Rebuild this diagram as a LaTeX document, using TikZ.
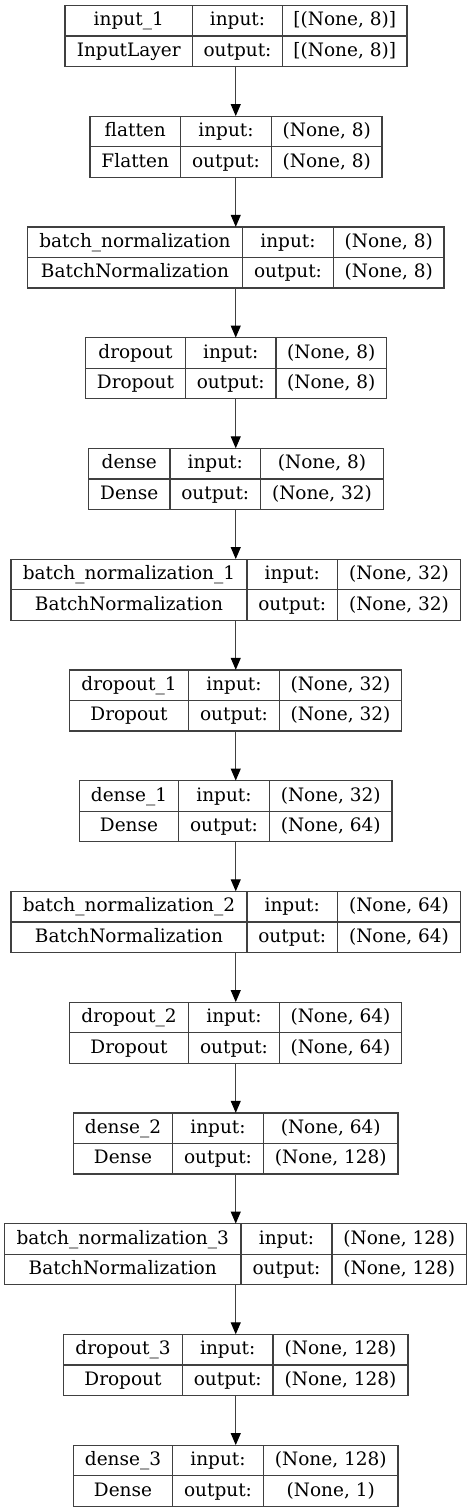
\documentclass[tikz,border=0pt]{standalone}
\usepackage{fontspec}
\setmainfont{DejaVu Serif}
\usetikzlibrary{arrows.meta}
\definecolor{boxgray}{gray}{0.25}
\tikzset{
  cell/.style={draw=boxgray, line width=1.1pt, inner sep=0pt, minimum height=30.5pt,
    text height=14pt, text depth=4pt, font=\fontsize{18.5}{22}\selectfont},
  layer/.style={inner sep=0pt, minimum height=61pt},
  edge/.style={draw=boxgray, line width=1.1pt, -{Triangle[width=10pt, length=12pt, color=black]}}
}
\begin{document}
\begin{tikzpicture}[x = {(1pt, 0pt)}, y = {(0pt, -1pt)}]
  \useasboundingbox (0, 0) rectangle (472, 1512);

  \node[layer, minimum width=342pt] (l1) at (235.75, 36) {};
  \node[cell, minimum width=127.5pt] (l1a) at (128.75, 20.75) {input\_1};
  \node[cell, minimum width=127.5pt] (l1b) at (128.75, 51.25) {InputLayer};
  \node[cell, minimum width=90pt] (l1c) at (237.5, 20.75) {input:};
  \node[cell, minimum width=90pt] (l1d) at (237.5, 51.25) {output:};
  \node[cell, minimum width=124.5pt] (l1e) at (344.75, 20.75) {[(None, 8)]};
  \node[cell, minimum width=124.5pt] (l1f) at (344.75, 51.25) {[(None, 8)]};

  \node[layer, minimum width=292pt] (l2) at (235.75, 146.75) {};
  \node[cell, minimum width=90.5pt] (l2a) at (135.25, 131.5) {flatten};
  \node[cell, minimum width=90.5pt] (l2b) at (135.25, 162) {Flatten};
  \node[cell, minimum width=91pt] (l2c) at (226, 131.5) {input:};
  \node[cell, minimum width=91pt] (l2d) at (226, 162) {output:};
  \node[cell, minimum width=110.5pt] (l2e) at (326.75, 131.5) {(None, 8)};
  \node[cell, minimum width=110.5pt] (l2f) at (326.75, 162) {(None, 8)};
  \draw[edge] (l1) -- (l2);

  \node[layer, minimum width=416.5pt] (l3) at (235.75, 257.5) {};
  \node[cell, minimum width=215pt] (l3a) at (135, 242.25) {batch\_normalization};
  \node[cell, minimum width=215pt] (l3b) at (135, 272.75) {BatchNormalization};
  \node[cell, minimum width=91pt] (l3c) at (288, 242.25) {input:};
  \node[cell, minimum width=91pt] (l3d) at (288, 272.75) {output:};
  \node[cell, minimum width=110.5pt] (l3e) at (388.75, 242.25) {(None, 8)};
  \node[cell, minimum width=110.5pt] (l3f) at (388.75, 272.75) {(None, 8)};
  \draw[edge] (l2) -- (l3);

  \node[layer, minimum width=301pt] (l4) at (235.75, 368.25) {};
  \node[cell, minimum width=100pt] (l4a) at (135.5, 353) {dropout};
  \node[cell, minimum width=100pt] (l4b) at (135.5, 383.5) {Dropout};
  \node[cell, minimum width=90.5pt] (l4c) at (230.75, 353) {input:};
  \node[cell, minimum width=90.5pt] (l4d) at (230.75, 383.5) {output:};
  \node[cell, minimum width=110.5pt] (l4e) at (331.25, 353) {(None, 8)};
  \node[cell, minimum width=110.5pt] (l4f) at (331.25, 383.5) {(None, 8)};
  \draw[edge] (l3) -- (l4);

  \node[layer, minimum width=295pt] (l5) at (235.75, 479) {};
  \node[cell, minimum width=81.5pt] (l5a) at (129.25, 463.75) {dense};
  \node[cell, minimum width=81.5pt] (l5b) at (129.25, 494.25) {Dense};
  \node[cell, minimum width=90.5pt] (l5c) at (215.25, 463.75) {input:};
  \node[cell, minimum width=90.5pt] (l5d) at (215.25, 494.25) {output:};
  \node[cell, minimum width=123pt] (l5e) at (322, 463.75) {(None, 8)};
  \node[cell, minimum width=123pt] (l5f) at (322, 494.25) {(None, 32)};
  \draw[edge] (l4) -- (l5);

  \node[layer, minimum width=449.5pt] (l6) at (235.75, 589.75) {};
  \node[cell, minimum width=236pt] (l6a) at (129, 574.5) {batch\_normalization\_1};
  \node[cell, minimum width=236pt] (l6b) at (129, 605) {BatchNormalization};
  \node[cell, minimum width=90.5pt] (l6c) at (292.25, 574.5) {input:};
  \node[cell, minimum width=90.5pt] (l6d) at (292.25, 605) {output:};
  \node[cell, minimum width=123pt] (l6e) at (399, 574.5) {(None, 32)};
  \node[cell, minimum width=123pt] (l6f) at (399, 605) {(None, 32)};
  \draw[edge] (l5) -- (l6);

  \node[layer, minimum width=332pt] (l7) at (235.75, 700.5) {};
  \node[cell, minimum width=119pt] (l7a) at (129, 685.25) {dropout\_1};
  \node[cell, minimum width=119pt] (l7b) at (129, 715.75) {Dropout};
  \node[cell, minimum width=91pt] (l7c) at (234, 685.25) {input:};
  \node[cell, minimum width=91pt] (l7d) at (234, 715.75) {output:};
  \node[cell, minimum width=122pt] (l7e) at (340.5, 685.25) {(None, 32)};
  \node[cell, minimum width=122pt] (l7f) at (340.5, 715.75) {(None, 32)};
  \draw[edge] (l6) -- (l7);

  \node[layer, minimum width=312.5pt] (l8) at (235.75, 811.25) {};
  \node[cell, minimum width=99pt] (l8a) at (129, 796) {dense\_1};
  \node[cell, minimum width=99pt] (l8b) at (129, 826.5) {Dense};
  \node[cell, minimum width=91pt] (l8c) at (224, 796) {input:};
  \node[cell, minimum width=91pt] (l8d) at (224, 826.5) {output:};
  \node[cell, minimum width=122.5pt] (l8e) at (330.75, 796) {(None, 32)};
  \node[cell, minimum width=122.5pt] (l8f) at (330.75, 826.5) {(None, 64)};
  \draw[edge] (l7) -- (l8);

  \node[layer, minimum width=449.5pt] (l9) at (235.75, 922) {};
  \node[cell, minimum width=236pt] (l9a) at (129, 906.75) {batch\_normalization\_2};
  \node[cell, minimum width=236pt] (l9b) at (129, 937.25) {BatchNormalization};
  \node[cell, minimum width=90.5pt] (l9c) at (292.25, 906.75) {input:};
  \node[cell, minimum width=90.5pt] (l9d) at (292.25, 937.25) {output:};
  \node[cell, minimum width=123pt] (l9e) at (399, 906.75) {(None, 64)};
  \node[cell, minimum width=123pt] (l9f) at (399, 937.25) {(None, 64)};
  \draw[edge] (l8) -- (l9);

  \node[layer, minimum width=332pt] (l10) at (235.75, 1032.75) {};
  \node[cell, minimum width=119pt] (l10a) at (129, 1017.5) {dropout\_2};
  \node[cell, minimum width=119pt] (l10b) at (129, 1048) {Dropout};
  \node[cell, minimum width=91pt] (l10c) at (234, 1017.5) {input:};
  \node[cell, minimum width=91pt] (l10d) at (234, 1048) {output:};
  \node[cell, minimum width=122pt] (l10e) at (340.5, 1017.5) {(None, 64)};
  \node[cell, minimum width=122pt] (l10f) at (340.5, 1048) {(None, 64)};
  \draw[edge] (l9) -- (l10);

  \node[layer, minimum width=324.5pt] (l11) at (235.75, 1143.5) {};
  \node[cell, minimum width=99pt] (l11a) at (123, 1128.25) {dense\_2};
  \node[cell, minimum width=99pt] (l11b) at (123, 1158.75) {Dense};
  \node[cell, minimum width=91pt] (l11c) at (218, 1128.25) {input:};
  \node[cell, minimum width=91pt] (l11d) at (218, 1158.75) {output:};
  \node[cell, minimum width=134.5pt] (l11e) at (330.75, 1128.25) {(None, 64)};
  \node[cell, minimum width=134.5pt] (l11f) at (330.75, 1158.75) {(None, 128)};
  \draw[edge] (l10) -- (l11);

  \node[layer, minimum width=462pt] (l12) at (235.75, 1254.25) {};
  \node[cell, minimum width=236.5pt] (l12a) at (122.75, 1239) {batch\_normalization\_3};
  \node[cell, minimum width=236.5pt] (l12b) at (122.75, 1269.5) {BatchNormalization};
  \node[cell, minimum width=91pt] (l12c) at (286.5, 1239) {input:};
  \node[cell, minimum width=91pt] (l12d) at (286.5, 1269.5) {output:};
  \node[cell, minimum width=134.5pt] (l12e) at (399.25, 1239) {(None, 128)};
  \node[cell, minimum width=134.5pt] (l12f) at (399.25, 1269.5) {(None, 128)};
  \draw[edge] (l11) -- (l12);

  \node[layer, minimum width=344.5pt] (l13) at (235.75, 1365) {};
  \node[cell, minimum width=119pt] (l13a) at (123, 1349.75) {dropout\_3};
  \node[cell, minimum width=119pt] (l13b) at (123, 1380.25) {Dropout};
  \node[cell, minimum width=90.5pt] (l13c) at (227.75, 1349.75) {input:};
  \node[cell, minimum width=90.5pt] (l13d) at (227.75, 1380.25) {output:};
  \node[cell, minimum width=135pt] (l13e) at (340.5, 1349.75) {(None, 128)};
  \node[cell, minimum width=135pt] (l13f) at (340.5, 1380.25) {(None, 128)};
  \draw[edge] (l12) -- (l13);

  \node[layer, minimum width=324.5pt] (l14) at (235.75, 1475.75) {};
  \node[cell, minimum width=99pt] (l14a) at (123, 1460.5) {dense\_3};
  \node[cell, minimum width=99pt] (l14b) at (123, 1491) {Dense};
  \node[cell, minimum width=91pt] (l14c) at (218, 1460.5) {input:};
  \node[cell, minimum width=91pt] (l14d) at (218, 1491) {output:};
  \node[cell, minimum width=134.5pt] (l14e) at (330.75, 1460.5) {(None, 128)};
  \node[cell, minimum width=134.5pt] (l14f) at (330.75, 1491) {(None, 1)};
  \draw[edge] (l13) -- (l14);
\end{tikzpicture}
\end{document}
